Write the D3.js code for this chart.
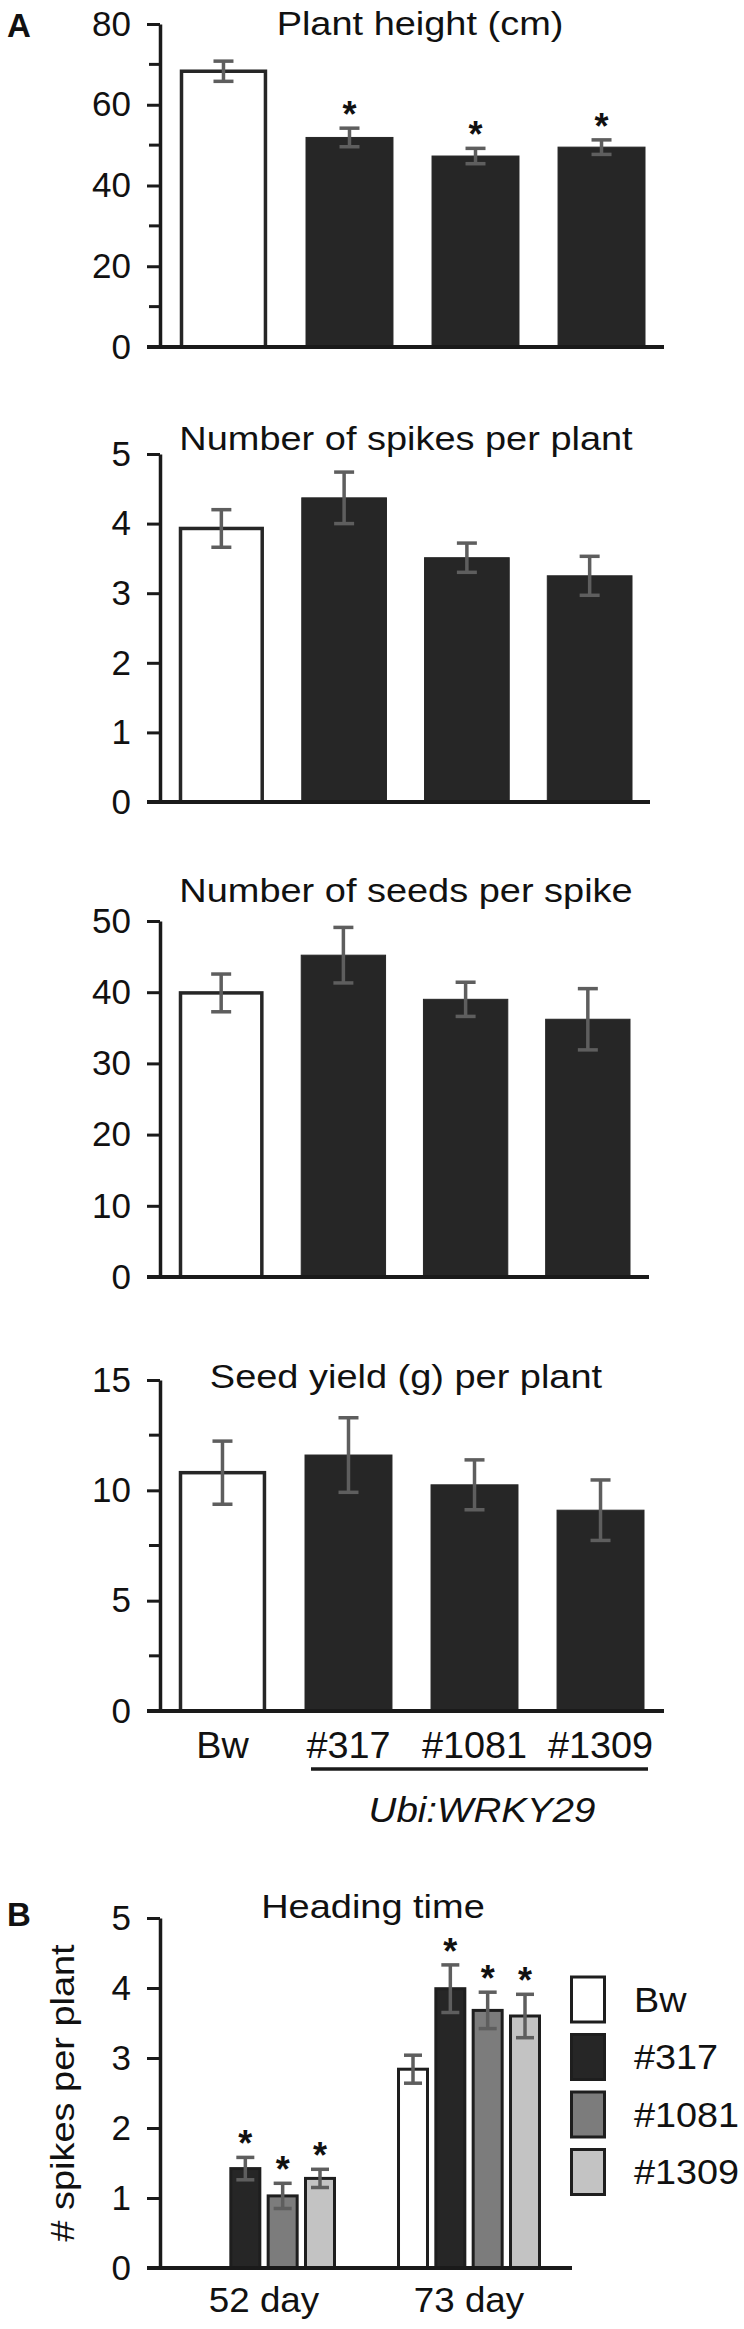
<!DOCTYPE html>
<html><head><meta charset="utf-8">
<script src="https://cdn.jsdelivr.net/npm/d3@7"></script>
<style>
body{margin:0;background:#fff}
svg{display:block}
text{font-family:"Liberation Sans",Arial,Helvetica,sans-serif;fill:#111}
</style>
</head><body>
<svg id="c" width="744" height="2329"></svg>
<script>
// ---------- data ----------
const lines = ["Bw", "#317", "#1081", "#1309"];
const plantHeight = [68.3, 51.9, 47.3, 49.5];
const plantHeightErr = [2.5, 2.3, 1.9, 1.8];
const plantHeightSig = [false, true, true, true];
const spikesPerPlant = [3.93, 4.37, 3.51, 3.25];
const spikesErr = [0.27, 0.37, 0.21, 0.28];
const seedsPerSpike = [39.9, 45.2, 39.0, 36.2];
const seedsErr = [2.65, 3.9, 2.4, 4.3];
const seedYield = [10.8, 11.6, 10.25, 9.1];
const seedYieldErr = [1.43, 1.69, 1.13, 1.37];
const noSig = [false, false, false, false];
const headingDays = ["52 day", "73 day"];
const heading52 = [0, 1.42, 1.03, 1.28];
const heading52Err = [0, 0.16, 0.18, 0.13];
const heading52Sig = [false, true, true, true];
const heading73 = [2.84, 3.99, 3.68, 3.6];
const heading73Err = [0.2, 0.34, 0.26, 0.31];
const heading73Sig = [false, true, true, true];
const ticksHeight = [0, 20, 40, 60, 80];
const minorHeight = [10, 30, 50, 70];
const ticksSpikes = [0, 1, 2, 3, 4, 5];
const ticksSeeds = [0, 10, 20, 30, 40, 50];
const ticksYield = [0, 5, 10, 15];
const minorYield = [2.5, 7.5, 12.5];
const ticksHeading = [0, 1, 2, 3, 4, 5];

// ---------- style ----------
const AXIS_X = 160;
const DARK = "#262626";
const ERR = "#5e5e5e";
const fillA = ["#ffffff", DARK, DARK, DARK];
const fillB = ["#ffffff", DARK, "#7c7c7c", "#c3c3c3"];

const svg = d3.select("#c");

function label(x, y, str, size, sx = 1, anchor = "middle", weight = "normal", style = "normal") {
  return svg.append("text")
    .attr("x", x / sx).attr("y", y)
    .attr("transform", `scale(${sx},1)`)
    .attr("text-anchor", anchor)
    .attr("font-size", size)
    .attr("font-weight", weight)
    .attr("font-style", style)
    .text(str);
}

function yAxis(y, ticks, minor, baseEnd) {
  const g = svg.append("g").attr("transform", `translate(${AXIS_X},0)`);
  g.call(d3.axisLeft(y).tickValues(ticks).tickSize(13).tickSizeOuter(0).tickPadding(16)
    .tickFormat(d3.format("d")));
  g.select(".domain").attr("stroke", "#1a1a1a").attr("stroke-width", 3.5);
  g.selectAll(".tick line").attr("stroke", "#1a1a1a").attr("stroke-width", 3);
  g.selectAll(".tick text")
    .attr("font-size", 35)
    .attr("fill", "#111")
    .attr("font-family", '"Liberation Sans",Arial,sans-serif');
  if (minor) {
    g.selectAll(".minor").data(minor).join("line")
      .attr("x1", -11).attr("x2", 0)
      .attr("y1", d => y(d)).attr("y2", d => y(d))
      .attr("stroke", "#1a1a1a").attr("stroke-width", 3);
  }
  svg.append("line").attr("x1", AXIS_X - 13).attr("x2", baseEnd)
    .attr("y1", y(0)).attr("y2", y(0))
    .attr("stroke", "#1a1a1a").attr("stroke-width", 4);
}

function errorBars(g, xs, y, vals, errs, sigs, capHalf) {
  vals.forEach((v, i) => {
    if (!v) return;
    const cx = xs[i];
    const t = y(v + errs[i]), b = y(v - errs[i]);
    g.append("line").attr("x1", cx).attr("x2", cx).attr("y1", t).attr("y2", b)
      .attr("stroke", ERR).attr("stroke-width", 3.5);
    [t, b].forEach(yy => g.append("line").attr("x1", cx - capHalf).attr("x2", cx + capHalf)
      .attr("y1", yy).attr("y2", yy).attr("stroke", ERR).attr("stroke-width", 3.5));
    if (sigs[i]) label(cx, t - 1, "*", 36, 1, "middle", "bold");
  });
}

function barPanel(p) {
  const y = d3.scaleLinear().domain([0, p.max]).range([p.bottom, p.top]);
  const x = d3.scaleBand().domain(lines).range([p.x0, p.x1]).paddingInner(0.31).paddingOuter(0);
  const g = svg.append("g");
  g.selectAll("rect").data(p.values).join("rect")
    .attr("x", (d, i) => x(lines[i]) + (i === 0 ? 1.5 : 0))
    .attr("width", (d, i) => x.bandwidth() - (i === 0 ? 3 : 0))
    .attr("y", d => y(d))
    .attr("height", d => y(0) - y(d))
    .attr("fill", (d, i) => fillA[i])
    .attr("stroke", DARK)
    .attr("stroke-width", (d, i) => i === 0 ? 3.5 : 1);
  yAxis(y, p.ticks, p.minor, p.baseEnd);
  errorBars(g, lines.map(l => x(l) + x.bandwidth() / 2), y, p.values, p.errs, p.sigs, 10);
  label(p.titleX, p.titleY, p.title, 33, 1.15);
  return x;
}

// ---------- Panel A ----------
label(19, 37, "A", 33, 1, "middle", "bold");

barPanel({ title: "Plant height (cm)", titleX: 420, titleY: 35, top: 24, bottom: 347, max: 80,
  ticks: ticksHeight, minor: minorHeight, x0: 180, x1: 645, baseEnd: 664,
  values: plantHeight, errs: plantHeightErr, sigs: plantHeightSig });

barPanel({ title: "Number of spikes per plant", titleX: 406, titleY: 450, top: 454, bottom: 802, max: 5,
  ticks: ticksSpikes, minor: null, x0: 179, x1: 632, baseEnd: 650,
  values: spikesPerPlant, errs: spikesErr, sigs: noSig });

barPanel({ title: "Number of seeds per spike", titleX: 406, titleY: 902, top: 921, bottom: 1277, max: 50,
  ticks: ticksSeeds, minor: null, x0: 179, x1: 630, baseEnd: 649,
  values: seedsPerSpike, errs: seedsErr, sigs: noSig });

const x4 = barPanel({ title: "Seed yield (g) per plant", titleX: 406, titleY: 1388, top: 1380, bottom: 1711, max: 15,
  ticks: ticksYield, minor: minorYield, x0: 179, x1: 644, baseEnd: 664,
  values: seedYield, errs: seedYieldErr, sigs: noSig });

lines.forEach(l => label(x4(l) + x4.bandwidth() / 2, 1758, l, 36, 1.05));
svg.append("line").attr("x1", 311).attr("x2", 648).attr("y1", 1769).attr("y2", 1769)
  .attr("stroke", "#1a1a1a").attr("stroke-width", 3.5);
const ubi = label(482, 1822, "", 35, 1.1, "middle", "normal", "italic");
ubi.append("tspan").text("Ubi:");
ubi.append("tspan").text("WRKY29");

// ---------- Panel B ----------
label(19, 1926, "B", 33, 1, "middle", "bold");
{
  const yB = d3.scaleLinear().domain([0, 5]).range([2268, 1918]);
  const xg = d3.scaleBand().domain(headingDays).range([192, 541]).paddingInner(0.2976).paddingOuter(0);
  const xi = d3.scaleBand().domain(lines).range([0, xg.bandwidth()]).paddingInner(0.143).paddingOuter(0);
  const g = svg.append("g");
  const groups = [[heading52, heading52Err, heading52Sig], [heading73, heading73Err, heading73Sig]];
  groups.forEach(([vals], gi) => {
    const day = headingDays[gi];
    g.selectAll(null).data(vals.map((v, i) => ({ v, i })).filter(d => d.v > 0)).join("rect")
      .attr("x", d => xg(day) + xi(lines[d.i]) + 1.5)
      .attr("width", xi.bandwidth() - 3)
      .attr("y", d => yB(d.v))
      .attr("height", d => yB(0) - yB(d.v))
      .attr("fill", d => fillB[d.i])
      .attr("stroke", "#1e1e1e").attr("stroke-width", 3);
  });
  yAxis(yB, ticksHeading, null, 572);
  groups.forEach(([vals, errs, sigs], gi) => {
    const day = headingDays[gi];
    errorBars(g, lines.map(l => xg(day) + xi(l) + xi.bandwidth() / 2), yB, vals, errs, sigs, 9);
  });
  headingDays.forEach(d => label(xg(d) + xg.bandwidth() / 2, 2312, d, 35, 1.05));
  label(373, 1918, "Heading time", 33, 1.15);
  svg.append("text")
    .attr("transform", `translate(74,2093) rotate(-90) scale(1.15,1)`)
    .attr("text-anchor", "middle").attr("font-size", 33)
    .text("# spikes per plant");
  const leg = svg.append("g");
  lines.forEach((l, i) => {
    const ly = 1977 + i * 57.5;
    leg.append("rect").attr("x", 571.5).attr("y", ly).attr("width", 33).attr("height", 45)
      .attr("fill", fillB[i]).attr("stroke", "#1e1e1e").attr("stroke-width", 3);
    label(634, ly + 35, l, 35, 1.08, "start");
  });
}
</script>
</body></html>
